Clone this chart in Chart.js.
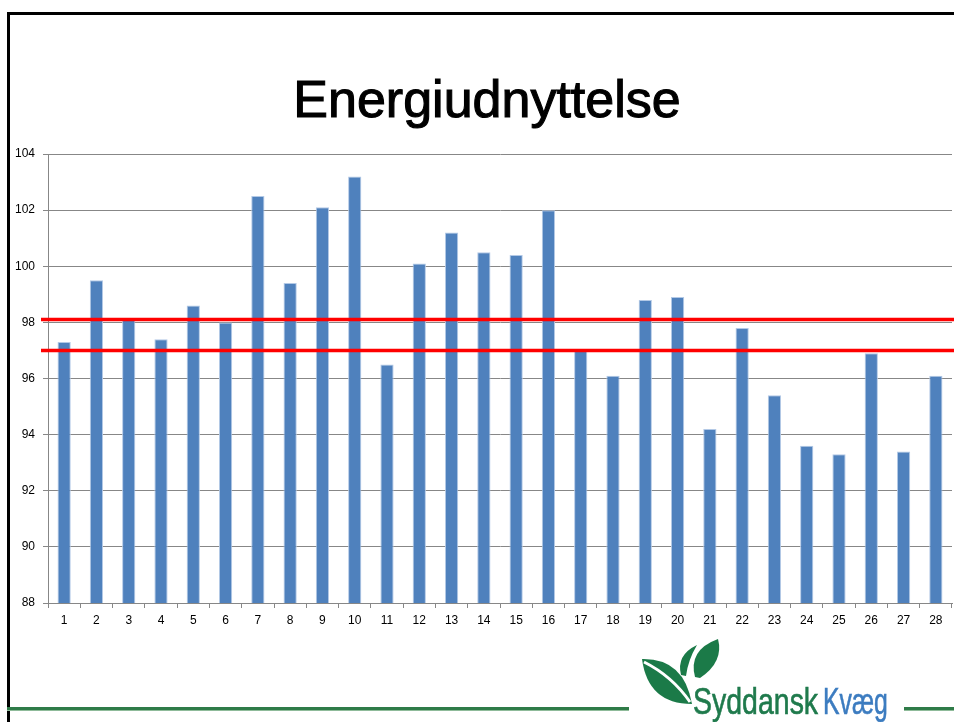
<!DOCTYPE html>
<html>
<head>
<meta charset="utf-8">
<script src="https://cdn.jsdelivr.net/npm/chart.js@4/dist/chart.umd.min.js"></script>
<style>
  html, body { margin: 0; padding: 0; background: #fff; }
  #wrap { position: relative; width: 954px; height: 722px; overflow: hidden; }
  #c { position: absolute; left: 0; top: 0; }
  .title { position: absolute; left: 0; top: 73px; width: 974px; text-align: center;
           font-family: "Liberation Sans", Arial, sans-serif;
           font-weight: normal; font-size: 52px; line-height: 52px; color: #000;
           -webkit-text-stroke: 1.1px #000; }
  .frameTop { position: absolute; left: 7px; top: 12px; width: 947px; height: 3px; background: #000; }
  .frameLeft { position: absolute; left: 7px; top: 12px; width: 3px; height: 710px; background: #000; }
  .green1 { position: absolute; left: 7px; top: 707px; width: 622px; height: 3px; background: #2f7b48; border-bottom: 1px solid #8fbb9a; }
  .green2 { position: absolute; left: 904px; top: 707px; width: 50px; height: 3px; background: #2f7b48; border-bottom: 1px solid #8fbb9a; }
  .logoText { position: absolute; top: 683px; font-family: "Liberation Sans", Arial, sans-serif;
              font-size: 37px; line-height: 37px; white-space: nowrap; transform-origin: left top; }
  #leaves { position: absolute; left: 0; top: 0; }
</style>
</head>
<body>
<div id="wrap">
  <canvas id="c" width="954" height="722"></canvas>
  <div class="frameTop"></div>
  <div class="frameLeft"></div>
  <div class="green1"></div>
  <div class="green2"></div>
  <div class="title">Energiudnyttelse</div>
  <svg id="leaves" width="954" height="722" viewBox="0 0 954 722">
    <path d="M642,659 Q684,658 692,704 Q648,704 642,659 Z" fill="#1b7a48"/>
    <path d="M644,662 Q672,676 690,702" stroke="#fff" stroke-width="3" fill="none"/>
    <path d="M681,675 Q676,655 697,645 Q688,660 686,676 Z" fill="#1b7a48"/>
    <path d="M695,677 Q688,650 718,639 Q724,662 700,678 Z" fill="#1b7a48"/>
  </svg>
  <div class="logoText" style="left:693px; color:#1f7a4c; transform: scaleX(0.77); -webkit-text-stroke: 0.6px #1f7a4c;">Syddansk</div>
  <div class="logoText" style="left:823px; color:#3c7cc0; transform: scaleX(0.67); -webkit-text-stroke: 0.6px #3c7cc0;">Kvæg</div>
</div>
<script>
const categories = ['1','2','3','4','5','6','7','8','9','10','11','12','13','14','15','16','17','18','19','20','21','22','23','24','25','26','27','28'];
const values = [97.3, 99.5, 98.1, 97.4, 98.6, 98.0, 102.5, 99.4, 102.1, 103.2, 96.5, 100.1, 101.2, 100.5, 100.4, 102.0, 97.0, 96.1, 98.8, 98.9, 94.2, 97.8, 95.4, 93.6, 93.3, 96.9, 93.4, 96.1];
const referenceLines = [98.1, 97.0];
const yMin = 88, yMax = 104, yStep = 2;

const refLinePlugin = {
  id: 'refLines',
  afterDatasetsDraw(chart) {
    const ctx = chart.ctx;
    const y = chart.scales.y;
    ctx.save();
    ctx.strokeStyle = '#ff0000';
    ctx.lineWidth = 3.5;
    referenceLines.forEach(v => {
      const py = y.getPixelForValue(v);
      ctx.beginPath();
      ctx.moveTo(41, py);
      ctx.lineTo(chart.width, py);
      ctx.stroke();
    });
    ctx.restore();
  }
};

new Chart(document.getElementById('c'), {
  type: 'bar',
  data: {
    labels: categories,
    datasets: [{
      data: values,
      backgroundColor: '#4f81bd',
      borderColor: '#b3c9e6',
      borderWidth: 1,
      barPercentage: 0.41,
      categoryPercentage: 1.0
    }]
  },
  options: {
    responsive: false,
    animation: false,
    devicePixelRatio: 1,
    layout: { padding: { top: 154, left: 0, right: 2, bottom: 89 } },
    plugins: { legend: { display: false }, title: { display: false }, tooltip: { enabled: false } },
    scales: {
      y: {
        min: yMin, max: yMax,
        ticks: { stepSize: yStep, color: '#000', padding: 8,
                 font: { family: '"Liberation Sans", Arial, sans-serif', size: 12 } },
        grid: { color: '#878787', tickLength: 5, lineWidth: 1 },
        border: { color: '#878787' },
        afterFit(scale) { scale.width = 48; }
      },
      x: {
        ticks: { color: '#000', padding: 5,
                 font: { family: '"Liberation Sans", Arial, sans-serif', size: 12 } },
        grid: { drawOnChartArea: false, color: '#878787', tickLength: 5, offset: true },
        border: { color: '#878787' },
        afterFit(scale) { scale.height = 30; }
      }
    }
  },
  plugins: [refLinePlugin]
});
</script>
</body>
</html>
